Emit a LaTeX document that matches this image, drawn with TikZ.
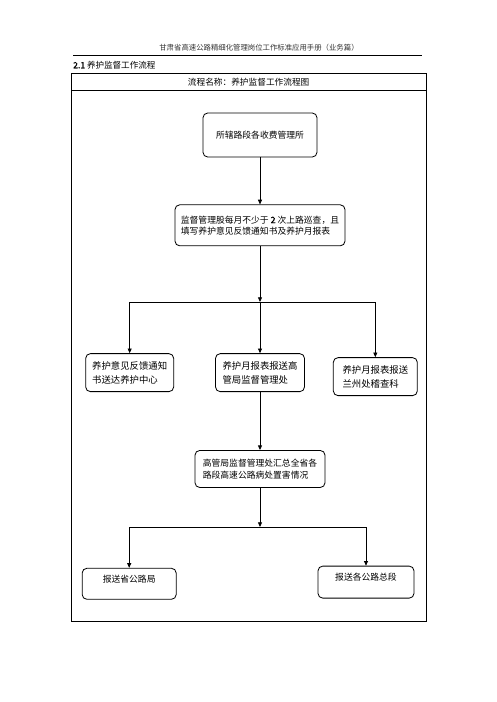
\documentclass[tikz,border=0pt]{standalone}
\usepackage{fontspec}
\usepackage{tikz}
\usetikzlibrary{arrows.meta, positioning}
\newfontfamily\cjk{Noto Sans CJK SC}[AutoFakeBold=2]

\begin{document}
\begin{tikzpicture}[
    stepbox/.style={rectangle, rounded corners=4pt, draw, line width=0.7pt, align=left, inner sep=2pt, font=\cjk\fontsize{7.5pt}{11.5pt}\selectfont},
    widebox/.style={stepbox, font=\cjk\fontsize{8pt}{12pt}\selectfont},
    pagetext/.style={inner sep=0pt},
    arrow/.style={-{Triangle[length=4pt,width=3.4pt]}, line width=0.7pt}
]
\useasboundingbox (0,0) rectangle (14.88,-21.06);

% Page head
\node[pagetext, font=\cjk\fontsize{6.3pt}{7pt}\selectfont, text=black!80] (head) at (7.77,-1.44) {甘肃省高速公路精细化管理岗位工作标准应用手册（业务篇）};
\draw[line width=0.8pt] (2.19,-1.65) -- (12.66,-1.65);
\node[pagetext, anchor=west, font=\cjk\fontsize{7.3pt}{8pt}\selectfont] (section) at (2.19,-1.95) {\textbf{2.1} 养护监督工作流程};

% Frame
\draw[line width=0.8pt] (2.13,-2.19) rectangle (12.78,-18.63);
\draw[line width=0.8pt] (2.13,-2.7) -- (12.78,-2.7);
\node[pagetext, font=\cjk\fontsize{7.4pt}{8pt}\selectfont] (title) at (7.46,-2.46) {流程名称：养护监督工作流程图};

% Steps
\node[stepbox, align=center, minimum width=3.42cm, minimum height=1.32cm] (office) at (7.8,-4.05) {所辖路段各收费管理所};
\node[stepbox, below=1.41cm of office, minimum width=5.1cm, minimum height=1.23cm, font=\cjk\fontsize{7.5pt}{9.5pt}\selectfont] (patrol) {监督管理股每月不少于 \textbf{2} 次上路巡查，且\\填写养护意见反馈通知书及养护月报表};
\coordinate (split) at (7.8,-9.06);

\node[widebox, below=3.21cm of patrol, minimum width=2.67cm, minimum height=1.14cm] (monthly) {养护月报表报送高\\管局监督管理处};
\node[widebox, left=1.23cm of monthly, minimum width=2.64cm, minimum height=1.14cm] (feedback) {养护意见反馈通知\\书送达养护中心};
\node[widebox, right=0.84cm of monthly, yshift=-0.12cm, minimum width=2.52cm, minimum height=1.14cm] (lanzhou) {养护月报表报送\\兰州处稽查科};

\node[stepbox, below=1.74cm of monthly, minimum width=3.9cm, minimum height=1.11cm, font=\cjk\fontsize{7.5pt}{10.5pt}\selectfont] (summary) {高管局监督管理处汇总全省各\\路段高速公路病处置害情况};
\coordinate (split2) at (7.8,-15.81);

\node[stepbox, below left=2.4cm and 0.54cm of summary, minimum width=2.82cm, minimum height=0.93cm, text depth=0.3cm] (province) {报送省公路局};
\node[stepbox, right=4.23cm of province, yshift=0.05cm, minimum width=2.88cm, minimum height=0.96cm, text depth=0.3cm] (bureaus) {报送各公路总段};

% Arrows
\draw[arrow] (office) -- (patrol);
\draw[arrow] (patrol) -- (split);
\draw[arrow] (split) -| (feedback);
\draw[arrow] (split) -- (monthly);
\draw[arrow] (split) -| (lanzhou);
\draw[arrow] (monthly) -- (summary);
\draw[arrow] (summary) -- (split2);
\draw[arrow] (split2) -| (province);
\draw[arrow] (split2) -| (bureaus);

\end{tikzpicture}
\end{document}
